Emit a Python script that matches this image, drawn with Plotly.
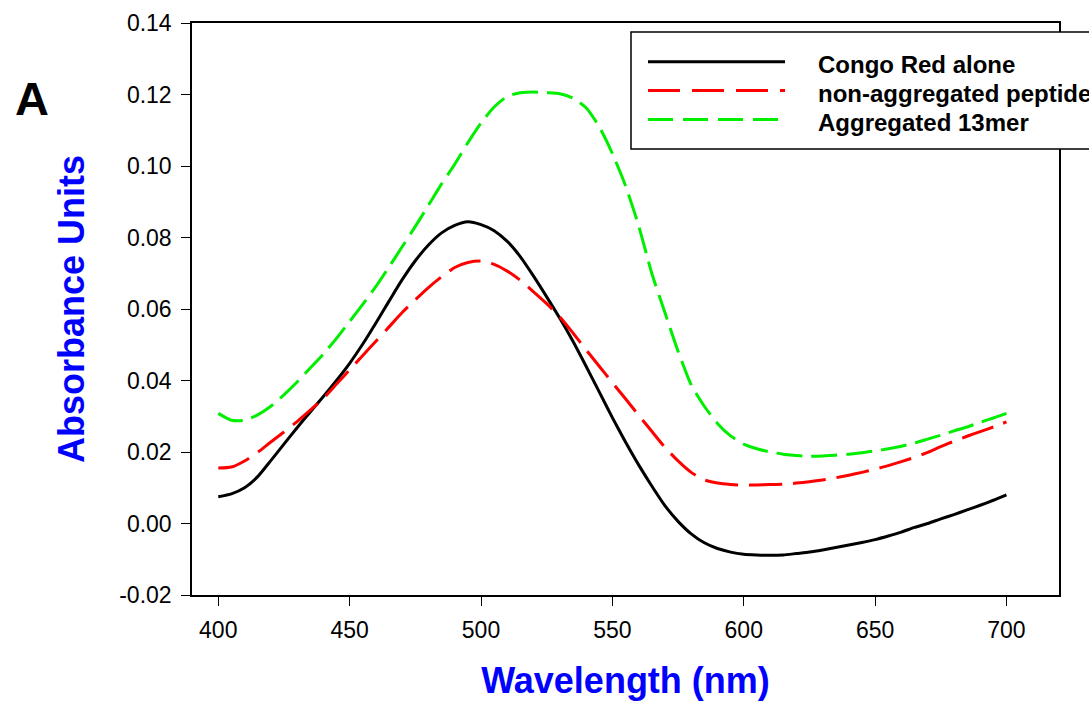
import plotly.graph_objects as go

# ---------------- data ----------------
wavelength = list(range(400, 705, 5))

congo_red_alone = [
    0.0075, 0.0083, 0.0100, 0.0131, 0.0176, 0.0222, 0.0268, 0.0312, 0.0355, 0.0400,
    0.0448, 0.0502, 0.0561, 0.0622, 0.0682, 0.0735, 0.0779, 0.0813, 0.0834, 0.0844,
    0.0836, 0.0819, 0.0789, 0.0746, 0.0692, 0.0634, 0.0574, 0.0510, 0.0440, 0.0368,
    0.0296, 0.0228, 0.0164, 0.0105, 0.0050, 0.0006, -0.0029, -0.0054, -0.0070, -0.0080,
    -0.0086, -0.0088, -0.0089, -0.0088, -0.0084, -0.0080, -0.0074, -0.0067, -0.0060, -0.0053,
    -0.0045, -0.0035, -0.0024, -0.0011, 0.0000, 0.0013, 0.0025, 0.0038, 0.0051, 0.0065,
    0.0080,
]

non_aggregated_peptide = [
    0.0155, 0.0158, 0.0175, 0.0199, 0.0228, 0.0256, 0.0285, 0.0317, 0.0350, 0.0390,
    0.0430, 0.0470, 0.0510, 0.0550, 0.0590, 0.0626, 0.0660, 0.0690, 0.0716, 0.0730,
    0.0734, 0.0725, 0.0706, 0.0680, 0.0648, 0.0615, 0.0578, 0.0533, 0.0486, 0.0440,
    0.0394, 0.0349, 0.0303, 0.0258, 0.0213, 0.0175, 0.0143, 0.0122, 0.0113, 0.0109,
    0.0107, 0.0108, 0.0109, 0.0110, 0.0113, 0.0117, 0.0122, 0.0128, 0.0135, 0.0143,
    0.0152, 0.0162, 0.0173, 0.0185, 0.0199, 0.0215, 0.0230, 0.0244, 0.0257, 0.0270,
    0.0284,
]

aggregated_13mer = [
    0.0308, 0.0289, 0.0289, 0.0304, 0.0328, 0.0360, 0.0396, 0.0435, 0.0474, 0.0518,
    0.0565, 0.0613, 0.0663, 0.0718, 0.0774, 0.0831, 0.0890, 0.0950, 0.1005, 0.1065,
    0.1120, 0.1165, 0.1195, 0.1205, 0.1207, 0.1205, 0.1202, 0.1190, 0.1163, 0.1110,
    0.1035, 0.0945, 0.0833, 0.0700, 0.0590, 0.0482, 0.0388, 0.0328, 0.0280, 0.0245,
    0.0222, 0.0209, 0.0200, 0.0194, 0.0190, 0.0188, 0.0189, 0.0191, 0.0194, 0.0198,
    0.0203, 0.0209, 0.0216, 0.0225, 0.0236, 0.0247, 0.0259, 0.0270, 0.0283, 0.0295,
    0.0308,
]

series_names = ["Congo Red alone", "non-aggregated peptide", "Aggregated 13mer"]

x_tick_values = [400, 450, 500, 550, 600, 650, 700]
y_tick_values = [-0.02, 0.00, 0.02, 0.04, 0.06, 0.08, 0.10, 0.12, 0.14]
y_tick_labels = ["-0.02", "0.00", "0.02", "0.04", "0.06", "0.08", "0.10", "0.12", "0.14"]

x_title = "Wavelength (nm)"
y_title = "Absorbance Units"
panel_label = "A"

# ---------------- layout geometry ----------------
W, H = 1089, 704
ML, MR, MT, MB = 192, 30, 23, 109
PW, PH = W - ML - MR, H - MT - MB


def px(xp):
    return (xp - ML) / PW


def py(yp):
    return (H - MB - yp) / PH


FONT = "Arial, Liberation Sans, Helvetica, sans-serif"

styles = [
    dict(color="#000000", width=3, dash="solid"),
    dict(color="#ff0000", width=3, dash="33px,11px"),
    dict(color="#00ee00", width=3, dash="26px,9px"),
]
legend_dash = ["solid", "32px,12px", "25px,10px"]

fig = go.Figure()
for name, ys, st in zip(series_names,
                        [congo_red_alone, non_aggregated_peptide, aggregated_13mer],
                        styles):
    fig.add_trace(go.Scatter(
        x=wavelength, y=ys, name=name, mode="lines",
        line=dict(color=st["color"], width=st["width"], dash=st["dash"],
                  shape="spline", smoothing=0.6),
        showlegend=False,
    ))

axis_common = dict(
    showline=True, linecolor="black", linewidth=1.5, mirror=True,
    ticks="outside", ticklen=9, tickwidth=1.2, tickcolor="black",
    showgrid=False, zeroline=False,
    tickfont=dict(family=FONT, size=23, color="black"),
)

fig.update_xaxes(
    range=[390, 720], tickvals=x_tick_values,
    title=dict(text=f"<b>{x_title}</b>", font=dict(family=FONT, size=36, color="#0000ff"),
               standoff=25),
    ticklabelstandoff=5,
    **axis_common,
)
fig.update_yaxes(
    range=[-0.02, 0.14], tickvals=y_tick_values, ticktext=y_tick_labels,
    title=dict(text=f"<b>{y_title}</b>", font=dict(family=FONT, size=36, color="#0000ff"),
               standoff=24),
    ticklabelstandoff=5,
    **axis_common,
)

shapes = []
annotations = []

# legend box (drawn manually to match the long sample lines of the original)
shapes.append(dict(type="rect", xref="paper", yref="paper", layer="above",
                   x0=px(631), x1=px(1096), y0=py(149), y1=py(32),
                   line=dict(color="black", width=1.5), fillcolor="white"))
row_y = [61.7, 90.5, 119.5]
for name, st, ld, ry in zip(series_names, styles, legend_dash, row_y):
    shapes.append(dict(type="line", xref="paper", yref="paper", layer="above",
                       x0=px(648), x1=px(785), y0=py(ry), y1=py(ry),
                       line=dict(color=st["color"], width=3, dash=ld)))
    annotations.append(dict(xref="paper", yref="paper", x=px(816), y=py(ry + 2.5),
                            xanchor="left", yanchor="middle", showarrow=False,
                            text=f"<b>{name}</b>",
                            font=dict(family=FONT, size=24, color="black")))

annotations.append(dict(xref="paper", yref="paper", x=px(32), y=py(98),
                        xanchor="center", yanchor="middle", showarrow=False,
                        text=f"<b>{panel_label}</b>",
                        font=dict(family=FONT, size=47, color="black")))

fig.update_layout(
    width=W, height=H,
    margin=dict(l=ML, r=MR, t=MT, b=MB, autoexpand=False),
    paper_bgcolor="white", plot_bgcolor="white",
    shapes=shapes, annotations=annotations,
    showlegend=False,
)

fig.write_html("out.html", config={"displayModeBar": False},
               post_script="document.body.style.margin='0';document.body.style.overflow='hidden';")
